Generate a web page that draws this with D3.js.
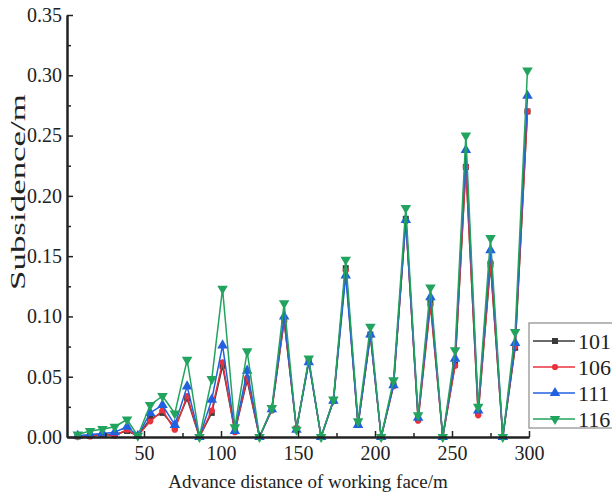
<!DOCTYPE html>
<html>
<head>
<meta charset="utf-8">
<script src="https://cdn.jsdelivr.net/npm/d3@7/dist/d3.min.js"></script>
<style>
  html, body { margin: 0; padding: 0; background: #fff; }
  svg { display: block; }
  text { font-family: "Liberation Serif", "Times New Roman", serif; fill: #222; }
</style>
</head>
<body>
<svg id="chart" width="612" height="494"></svg>
<script>
// Advance distance of the working face (m) at each survey point
const distance = [7, 15, 23, 31, 39, 46, 54, 62, 70, 78, 86, 94, 101, 109, 117, 125, 133, 141, 149,
  157, 165, 173, 181, 189, 197, 204, 212, 220, 228, 236, 244, 252, 259, 267, 275, 283, 291, 299];

// Subsidence (m) recorded at measuring points 101, 106, 111 and 116
const s101 = [0.0005, 0.001, 0.002, 0.002, 0.005, 0.001, 0.015, 0.020, 0.008, 0.032, 0, 0.020, 0.059,
  0.005, 0.047, 0, 0.023, 0.097, 0.007, 0.063, 0, 0.030, 0.140, 0.010, 0.085, 0, 0.043, 0.181, 0.015,
  0.112, 0, 0.060, 0.224, 0.020, 0.143, 0, 0.074, 0.270];
const s106 = [0.0005, 0.0005, 0.002, 0.001, 0.006, 0.001, 0.013, 0.022, 0.006, 0.034, 0, 0.022, 0.062,
  0.004, 0.049, 0, 0.022, 0.096, 0.007, 0.063, 0, 0.030, 0.138, 0.010, 0.084, 0, 0.042, 0.179, 0.0135,
  0.109, 0, 0.059, 0.224, 0.018, 0.145, 0, 0.075, 0.270];
const s111 = [0.001, 0.002, 0.003, 0.004, 0.0085, 0.001, 0.020, 0.0265, 0.010, 0.042, 0, 0.031, 0.076,
  0.005, 0.055, 0, 0.023, 0.100, 0.006, 0.062, 0, 0.030, 0.134, 0.010, 0.085, 0, 0.043, 0.180, 0.016,
  0.116, 0, 0.065, 0.238, 0.022, 0.155, 0, 0.078, 0.283];
const s116 = [0.002, 0.005, 0.0065, 0.0085, 0.0145, 0.001, 0.0265, 0.034, 0.0195, 0.064, 0, 0.048, 0.123,
  0.008, 0.071, 0, 0.024, 0.111, 0.006, 0.065, 0, 0.031, 0.147, 0.013, 0.0915, 0, 0.047, 0.190, 0.018,
  0.124, 0, 0.072, 0.250, 0.025, 0.165, 0, 0.087, 0.304];

const seriesNames = ["101", "106", "111", "116"];
const seriesValues = [s101, s106, s111, s116];

const xTicks = [50, 100, 150, 200, 250, 300];
const xMinorTicks = [25, 75, 125, 175, 225, 275];
const yTicks = [0, 0.05, 0.10, 0.15, 0.20, 0.25, 0.30, 0.35];
const yMinorTicks = [0.025, 0.075, 0.125, 0.175, 0.225, 0.275, 0.325];

const colors = ["#3a3a3a", "#e8323c", "#2160e0", "#22a35e"];
const symbols = [d3.symbolSquare, d3.symbolCircle, d3.symbolTriangle, d3.symbolTriangle];
const symbolSizes = [36, 30, 48, 48];
const symbolRotate = [0, 0, 0, 180];

const svg = d3.select("#chart");
svg.append("rect").attr("width", 612).attr("height", 494).attr("fill", "#fff");

const x = d3.scaleLinear().domain([0, 300]).range([67, 529]);
const y = d3.scaleLinear().domain([0, 0.35]).range([437, 15]);

// Series lines and markers (last series drawn on top)
const line = d3.line().x(d => x(d[0])).y(d => y(d[1]));
seriesValues.forEach((vals, i) => {
  const pts = distance.map((dv, k) => [dv, vals[k]]);
  const g = svg.append("g");
  g.append("path")
    .attr("d", line(pts))
    .attr("fill", "none")
    .attr("stroke", colors[i])
    .attr("stroke-width", 1.5)
    .attr("stroke-linejoin", "round");
  g.selectAll("path.mk").data(pts).enter().append("path")
    .attr("class", "mk")
    .attr("d", d3.symbol().type(symbols[i]).size(symbolSizes[i]))
    .attr("transform", d => `translate(${x(d[0])},${y(d[1])}) rotate(${symbolRotate[i]})`)
    .attr("fill", colors[i]);
});

// Axes with inward ticks
function styleAxis(g) {
  g.select(".domain").attr("stroke", "#222").attr("stroke-width", 2);
  g.selectAll(".tick line").attr("stroke", "#222").attr("stroke-width", 1.5);
  g.selectAll("text").attr("font-size", 20).attr("fill", "#222")
    .attr("font-family", '"Liberation Serif", "Times New Roman", serif');
}

const xAxis = svg.append("g").attr("transform", "translate(0,437)")
  .call(d3.axisBottom(x).tickValues(xTicks).tickSizeInner(-6).tickSizeOuter(0).tickPadding(9)
    .tickFormat(d3.format("d")));
styleAxis(xAxis);
const xMinor = svg.append("g").attr("transform", "translate(0,437)")
  .call(d3.axisBottom(x).tickValues(xMinorTicks).tickSizeInner(-4).tickSizeOuter(0).tickFormat(""));
styleAxis(xMinor);

const yAxis = svg.append("g").attr("transform", "translate(67,0)")
  .call(d3.axisLeft(y).tickValues(yTicks).tickSizeInner(-6).tickSizeOuter(0).tickPadding(5)
    .tickFormat(d3.format(".2f")));
styleAxis(yAxis);
const yMinor = svg.append("g").attr("transform", "translate(67,0)")
  .call(d3.axisLeft(y).tickValues(yMinorTicks).tickSizeInner(-4).tickSizeOuter(0).tickFormat(""));
styleAxis(yMinor);

// Axis titles
svg.append("text")
  .attr("x", 308).attr("y", 488)
  .attr("text-anchor", "middle")
  .attr("font-size", 19)
  .text("Advance distance of working face/m");

svg.append("text")
  .attr("transform", "translate(25,192) rotate(-90)")
  .attr("text-anchor", "middle")
  .attr("font-size", 22)
  .attr("textLength", 196)
  .attr("lengthAdjust", "spacingAndGlyphs")
  .text("Subsidence/m");

// Legend
const legend = svg.append("g");
legend.append("rect")
  .attr("x", 529).attr("y", 323).attr("width", 95).attr("height", 105)
  .attr("fill", "#fff").attr("stroke", "#8a8a8a").attr("stroke-width", 1.2);
seriesNames.forEach((name, i) => {
  const ly = 341 + i * 26;
  legend.append("line")
    .attr("x1", 533).attr("x2", 575).attr("y1", ly).attr("y2", ly)
    .attr("stroke", colors[i]).attr("stroke-width", 1.5);
  legend.append("path")
    .attr("d", d3.symbol().type(symbols[i]).size(symbolSizes[i]))
    .attr("transform", `translate(555,${ly}) rotate(${symbolRotate[i]})`)
    .attr("fill", colors[i]);
  legend.append("text")
    .attr("x", 578).attr("y", ly).attr("dy", "0.35em")
    .attr("font-size", 22)
    .text(name);
});
</script>
</body>
</html>
